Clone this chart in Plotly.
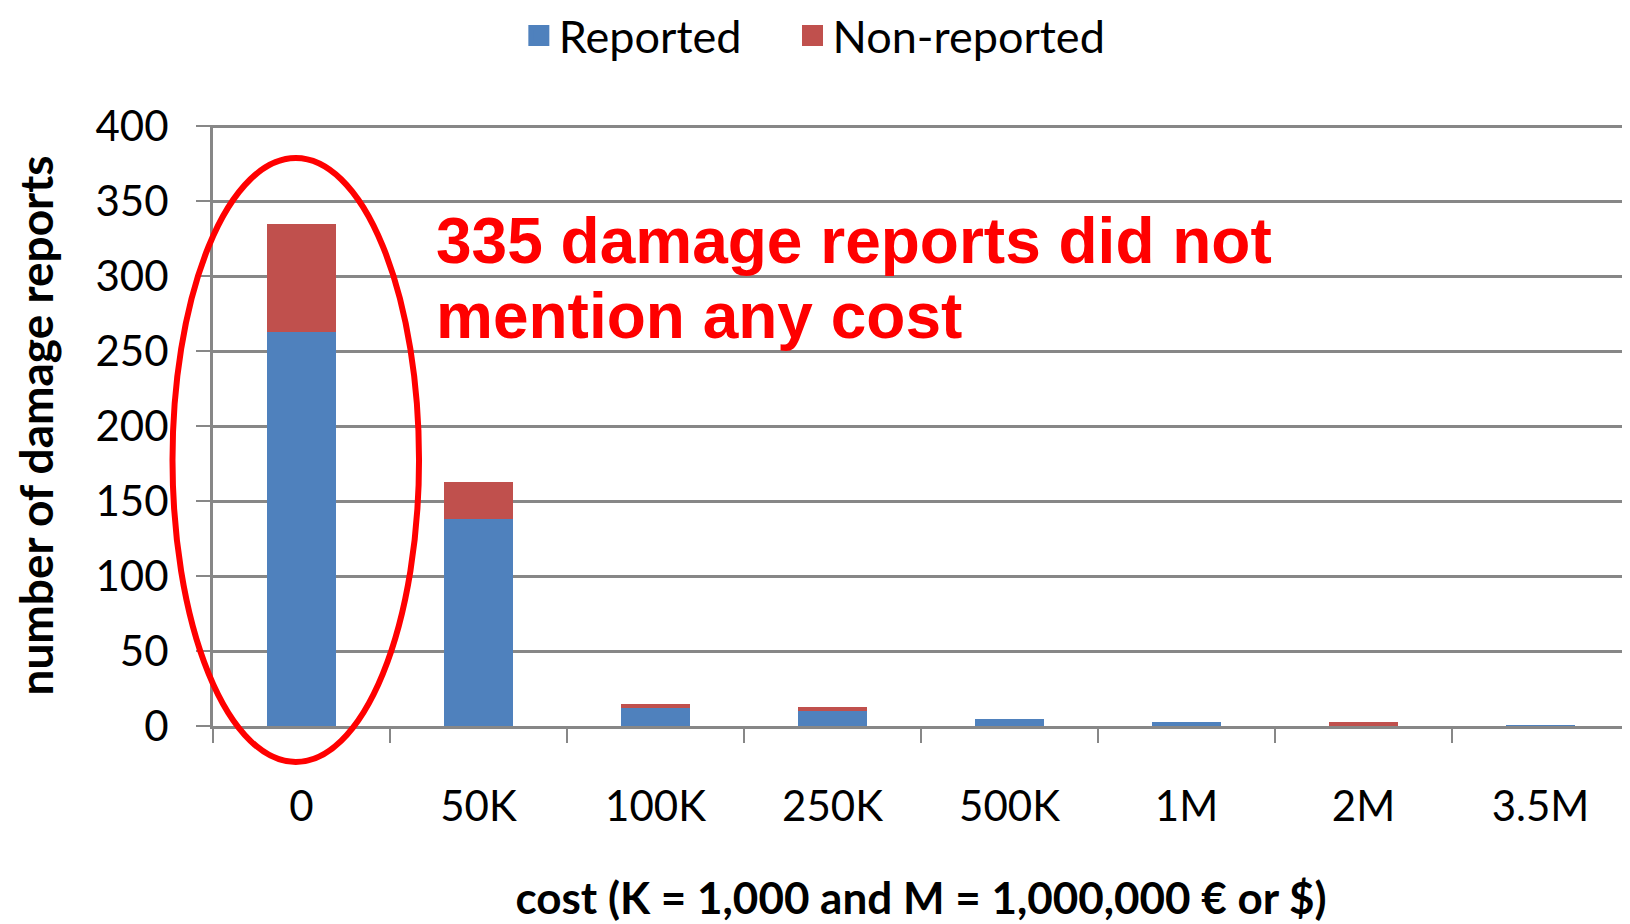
import plotly.graph_objects as go

categories = ["0", "50K", "100K", "250K", "500K", "1M", "2M", "3.5M"]
reported = [263, 138, 12, 10, 5, 3, 0, 0.5]
non_reported = [72, 25, 3, 3, 0, 0, 3, 0]
y_ticks = [0, 50, 100, 150, 200, 250, 300, 350, 400]
series_names = ["Reported", "Non-reported"]

BLUE = "#4F81BD"
RED = "#C0504D"
GRID = "#878787"
FONT = "Lato"

fig = go.Figure()
fig.add_trace(go.Bar(x=categories, y=reported, name=series_names[0], showlegend=False,
                     marker=dict(color=BLUE, line=dict(width=0))))
fig.add_trace(go.Bar(x=categories, y=non_reported, name=series_names[1], showlegend=False,
                     marker=dict(color=RED, line=dict(width=0))))
# legend entries with large square swatches
pads = ["\u00a0" * 4, ""]
for name, col, pad in zip(series_names, (BLUE, RED), pads):
    fig.add_trace(go.Scatter(x=[None], y=[None], mode="markers", name=name + pad,
                             marker=dict(symbol="square", size=24, color=col,
                                         line=dict(color=col, width=6))))

fig.update_layout(
    width=1630, height=924,
    barmode="stack", bargap=0.61,
    plot_bgcolor="white", paper_bgcolor="white",
    margin=dict(l=205, r=9, t=117, b=206, autoexpand=False),
    font=dict(family=FONT, color="black", size=42),
    legend=dict(orientation="h", xref="container", yref="container",
                x=0.3134, xanchor="left", y=0.970, yanchor="middle",
                font=dict(size=45, family=FONT), itemwidth=30,
                traceorder="normal", tracegroupgap=0),
    showlegend=True,
)
fig.update_xaxes(
    type="category", range=[-0.5, 7.5],
    showline=True, linecolor=GRID, linewidth=3,
    ticks="outside", tickson="boundaries", ticklen=14, tickwidth=2, tickcolor=GRID,
    ticklabelstandoff=42,
    tickfont=dict(size=42, family=FONT),
    title=dict(text="<b>cost (K = 1,000 and M = 1,000,000 € or $)</b>",
               font=dict(size=44, family=FONT), standoff=54),
    showgrid=False,
)
fig.update_yaxes(
    range=[0, 400.9], tickvals=y_ticks,
    showline=True, linecolor=GRID, linewidth=3,
    showgrid=True, gridcolor=GRID, gridwidth=3,
    ticks="outside", ticklen=14, tickwidth=2, tickcolor=GRID,
    ticklabelstandoff=19,
    tickfont=dict(size=42, family=FONT),
    title=dict(text="<b>number of damage reports</b>",
               font=dict(size=46, family=FONT), standoff=28),
    zeroline=False,
)

for txt, yy in (("<b>335 damage reports did not</b>", 0.807),
                ("<b>mention any cost</b>", 0.682)):
    fig.add_annotation(
        xref="paper", yref="paper", x=0.156, y=yy,
        xanchor="left", yanchor="middle", align="left", showarrow=False,
        text=txt,
        font=dict(family="Liberation Sans", size=64, color="#FF0000"),
    )
fig.add_shape(
    type="circle", xref="paper", yref="paper",
    x0=-0.0286, x1=0.1455, y0=-0.0599, y1=0.945,
    line=dict(color="#FF0000", width=6), layer="above",
)

fig.write_html("out.html")
